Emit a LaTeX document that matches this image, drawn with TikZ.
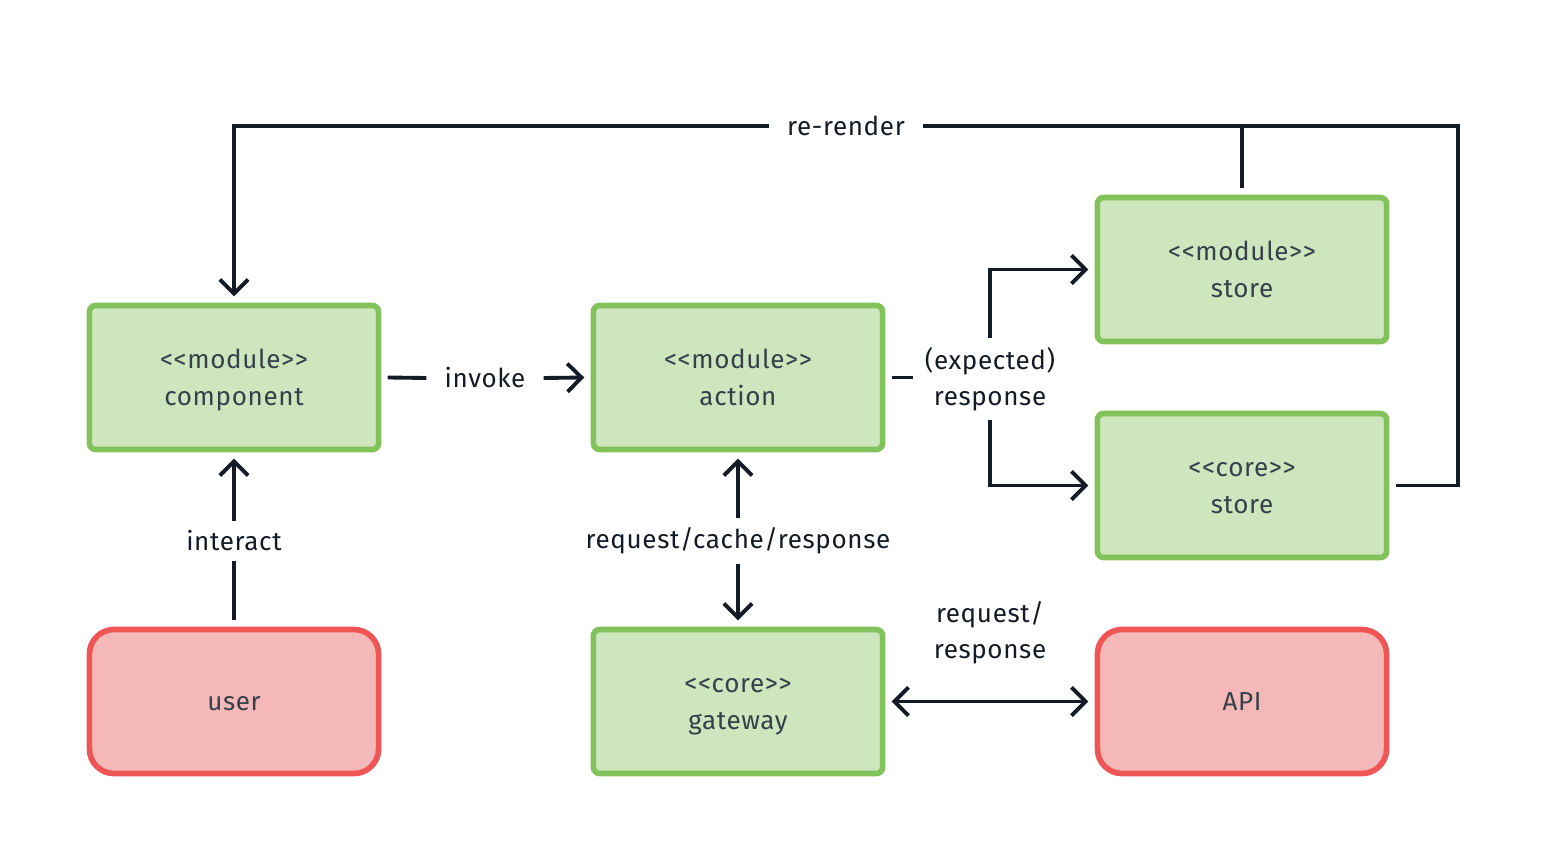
\documentclass[tikz,border=0pt]{standalone}
\usepackage{fontspec}
\setmainfont{Fira Sans}[LetterSpace=2.5,Ligatures=TeXOff]
\usetikzlibrary{arrows.meta}
\definecolor{boxgreen}{HTML}{CDE6BE}
\definecolor{edgegreen}{HTML}{82C25A}
\definecolor{boxred}{HTML}{F5B8B8}
\definecolor{edgered}{HTML}{EF5555}
\definecolor{ink}{HTML}{141A26}
\definecolor{boxtext}{HTML}{36404A}
\tikzset{
  module/.style={draw=edgegreen, fill=boxgreen, line width=1.6pt,
    rounded corners=1.8pt, minimum width=2.89cm, minimum height=1.44cm,
    align=center, text=boxtext, outer sep=2.6pt,
    text height=16pt, text depth=0pt,
    font=\fontsize{7.4}{10.5}\selectfont},
  actor/.style={module, draw=edgered, fill=boxred, rounded corners=7pt,
    text height=5pt},
  lbl/.style={text=ink, align=center, inner xsep=5pt, inner ysep=2.5pt,
    font=\fontsize{7.4}{10.2}\selectfont},
  link/.style={draw=ink, line width=1.1pt},
  >={Straight Barb[length=4pt,width=8pt]},
}
\begin{document}
\begin{tikzpicture}[x=0.01cm,y=-0.01cm]
      \useasboundingbox (0,0) rectangle (1548,864);
      \node [module] (comp) at (234,377.5) {<<module>>\\component};
      \node [module] (act) at (738,377.5) {<<module>>\\action};
      \node [module] (mst) at (1242,269.5) {<<module>>\\store};
      \node [module] (cst) at (1242,485.5) {<<core>>\\store};
      \node [actor] (user) at (234,701.5) {user};
      \node [module] (gw) at (738,701.5) {<<core>>\\gateway};
      \node [actor] (api) at (1242,701.5) {API};
      \node [lbl] (rr) at (846,126) {re-render};
      \node [lbl] (inv) at (485,378) {invoke};
      \node [lbl] (exp) at (990,379) {(expected)\\response};
      \node [lbl] (int) at (234,541) {interact};
      \node [lbl] (rcr) at (738,541) {request/cache/response};
      \node [lbl] (rqr) at (990,633) {request/\\response};
      \draw [link] (cst.east) -| (1458,126) -- (rr.east);
      \draw [link] (mst.north) -- (mst.north |- rr);
      \draw [link,->] (rr.west) -| (comp.north);
      \draw [link] (comp.east) -- (inv.west);
      \draw [link,->] (inv.east) -- (act.west);
      \draw [link] (act.east) -- ++(21,0);
      \draw [link,->] (exp.north) |- (mst.west);
      \draw [link,->] (exp.south) |- (cst.west);
      \draw [link] (user.north) -- (int.south);
      \draw [link,->] (int.north) -- (comp.south);
      \draw [link,->] (rcr.north) -- (act.south);
      \draw [link,->] (rcr.south) -- (gw.north);
      \draw [link,<->] (gw.east) -- (api.west);
    \end{tikzpicture}
\end{document}
